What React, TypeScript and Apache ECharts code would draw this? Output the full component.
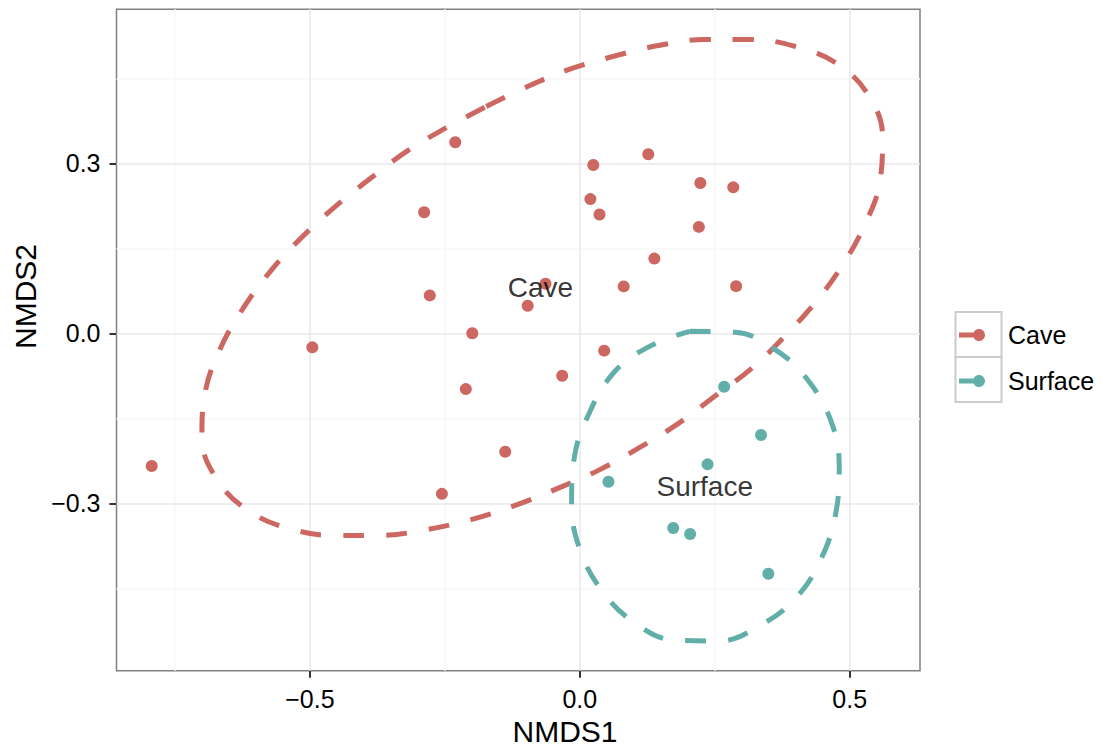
import React, { useEffect, useRef } from 'react';
import * as echarts from 'echarts';

// ---- data ----
const cavePoints: [number, number][] = [
  [-0.2307, 0.3372], [-0.2883, 0.2137], [-0.2778, 0.0668], [-0.1991, 0.0],
  [-0.4954, -0.0248], [-0.0965, 0.0485], [-0.0635, 0.0875], [0.025, 0.297],
  [0.1269, 0.3159], [0.2233, 0.2651], [0.2843, 0.2575], [0.0196, 0.2368],
  [0.0365, 0.2097], [0.2206, 0.1877], [0.1381, 0.1318], [0.0813, 0.0827],
  [0.2896, 0.0832], [0.0452, -0.0306], [-0.0326, -0.0749], [-0.793, -0.2343],
  [-0.2111, -0.0985], [-0.1381, -0.209], [-0.2554, -0.2833],
];

const surfacePoints: [number, number][] = [
  [0.2674, -0.0944], [0.3357, -0.1794], [0.2367, -0.2313], [0.0531, -0.2621],
  [0.1731, -0.3435], [0.2044, -0.3542], [0.3493, -0.4243],
];

// outline of the dashed ellipses
const caveEllipse: [number, number][] = [
  [-0.1733, 0.4002], [-0.0965, 0.4356], [-0.0172, 0.4664], [0.063, 0.4888],
  [0.1456, 0.5077], [0.2307, 0.5183], [0.3144, 0.5183], [0.3981, 0.5065],
  [0.4765, 0.4758], [0.5352, 0.4192], [0.5609, 0.346], [0.5556, 0.2656],
  [0.5274, 0.1907], [0.4852, 0.1181], [0.435, 0.0531], [0.3778, -0.0071],
  [0.3178, -0.0625], [0.2487, -0.1121], [0.1815, -0.1599], [0.1102, -0.2019],
  [0.0344, -0.2419], [-0.0454, -0.2755], [-0.1185, -0.3033], [-0.2011, -0.3287],
  [-0.2837, -0.3464], [-0.3667, -0.3565], [-0.4491, -0.357], [-0.5352, -0.3453],
  [-0.6124, -0.314], [-0.6722, -0.2578], [-0.7, -0.1829], [-0.6937, -0.1027],
  [-0.6654, -0.0259], [-0.6243, 0.0432], [-0.5728, 0.1098], [-0.5172, 0.1672],
  [-0.4537, 0.2231], [-0.3876, 0.2734], [-0.3187, 0.3223], [-0.2487, 0.362],
];

const surfaceEllipse: [number, number][] = [
  [0.2037, 0.0035], [0.2876, 0.0018], [0.3646, -0.0306], [0.4235, -0.0838],
  [0.467, -0.1594], [0.4806, -0.2384], [0.4737, -0.3198], [0.4483, -0.3954],
  [0.4028, -0.4645], [0.3357, -0.5146], [0.2574, -0.5429], [0.1737, -0.5412],
  [0.0987, -0.5088], [0.0398, -0.4526], [-0.0004, -0.38], [-0.0152, -0.2993],
  [-0.0104, -0.2206], [0.0143, -0.1475], [0.0611, -0.0714], [0.1256, -0.0248],
];

const groupLabels = ['Cave', 'Surface'];
const groupLabelPositions: [number, number][] = [[-0.0728, 0.0815], [0.2315, -0.2697]];

const xMajor = [-0.5, 0, 0.5];
const xMinor = [-0.75, -0.25, 0.25];
const yMajor = [-0.3, 0, 0.3];
const yMinor = [-0.45, -0.15, 0.15, 0.45];

const xRange = [-0.8582, 0.6302];
const yRange = [-0.5954, 0.5717];

const caveColor = '#CD6761';
const surfaceColor = '#62AFAA';
const FONT = '"Liberation Sans", Arial, Helvetica, sans-serif';

const legendIcon =
  'path://M0,5.5L14.5,5.5L14.5,10.5L0,10.5Z ' +
  'M26,8C26,11.314,23.314,14,20,14C16.686,14,14,11.314,14,8C14,4.686,16.686,2,20,2C23.314,2,26,4.686,26,8Z ' +
  'M44,8L44,8.02L43.98,8Z';

const fmt = (v: number) => v.toFixed(1).replace('-', '\u2212');

const close = (pts: [number, number][]) => [...pts, pts[0]];

export default function App() {
  const ref = useRef<HTMLDivElement>(null);

  useEffect(() => {
    if (!ref.current) return;
    const chart = echarts.init(ref.current, undefined, { renderer: 'svg' });

    const majorStyle = { color: '#E8E8E8', width: 1.5, type: 'solid' as const };
    const minorStyle = { color: '#F7F7F7', width: 1.5, type: 'solid' as const };

    const axisCommon = {
      type: 'value' as const,
      axisLine: { show: false, onZero: false },
      splitLine: { show: false },
      axisTick: { show: true, length: 7, lineStyle: { color: '#333333', width: 2 } },
    };

    chart.setOption({
      animation: false,
      backgroundColor: '#ffffff',
      grid: {
        left: 116.5,
        right: 187,
        top: 9.3,
        bottom: 76.3,
        show: true,
        backgroundColor: '#ffffff',
        borderColor: '#808080',
        borderWidth: 1.5,
      },
      xAxis: {
        ...axisCommon,
        min: xRange[0],
        max: xRange[1],
        axisTick: { ...axisCommon.axisTick, customValues: xMajor },
        axisLabel: {
          customValues: xMajor,
          formatter: fmt,
          fontSize: 25,
          color: '#000000',
          fontFamily: FONT,
          margin: 16,
        },
      },
      yAxis: {
        ...axisCommon,
        min: yRange[0],
        max: yRange[1],
        axisTick: { ...axisCommon.axisTick, customValues: yMajor },
        axisLabel: {
          customValues: yMajor,
          formatter: fmt,
          fontSize: 25,
          color: '#000000',
          fontFamily: FONT,
          margin: 16,
        },
      },
      legend: {
        orient: 'vertical',
        left: 959,
        top: 322.5,
        padding: 0,
        itemGap: 21,
        itemWidth: 44,
        itemHeight: 12,
        selectedMode: false,
        icon: legendIcon,
        data: ['Cave', 'Surface'],
        textStyle: { fontSize: 25, lineHeight: 24, color: '#000000', fontFamily: FONT },
      },
      graphic: [
        {
          type: 'rect',
          shape: { x: 955.5, y: 312, width: 46, height: 45 },
          style: { fill: 'none', stroke: '#CCCCCC', lineWidth: 2 },
          z: 0,
        },
        {
          type: 'rect',
          shape: { x: 955.5, y: 357, width: 46, height: 45 },
          style: { fill: 'none', stroke: '#CCCCCC', lineWidth: 2 },
          z: 0,
        },
        {
          type: 'text',
          x: 565,
          y: 731,
          style: {
            text: 'NMDS1',
            fontSize: 30,
            fontFamily: FONT,
            fill: '#000000',
            align: 'center',
            verticalAlign: 'middle',
          },
        },
        {
          type: 'text',
          x: 25,
          y: 296.5,
          rotation: Math.PI / 2,
          style: {
            text: 'NMDS2',
            fontSize: 30,
            fontFamily: FONT,
            fill: '#000000',
            align: 'center',
            verticalAlign: 'middle',
          },
        },
      ],
      series: [
        {
          type: 'line',
          name: 'gridlines',
          data: [],
          silent: true,
          markLine: {
            silent: true,
            symbol: ['none', 'none'],
            label: { show: false },
            z: 1,
            data: [
              ...xMinor.map((v) => ({ xAxis: v, lineStyle: minorStyle })),
              ...yMinor.map((v) => ({ yAxis: v, lineStyle: minorStyle })),
              ...xMajor.map((v) => ({ xAxis: v, lineStyle: majorStyle })),
              ...yMajor.map((v) => ({ yAxis: v, lineStyle: majorStyle })),
            ],
          },
        },
        {
          type: 'line',
          name: 'Cave ellipse',
          data: close(caveEllipse),
          smooth: 0.4,
          showSymbol: false,
          symbol: 'none',
          silent: true,
          z: 3,
          lineStyle: { color: caveColor, width: 5, type: [21, 22], cap: 'butt' },
        },
        {
          type: 'line',
          name: 'Surface ellipse',
          data: close(surfaceEllipse),
          smooth: 0.4,
          showSymbol: false,
          symbol: 'none',
          silent: true,
          z: 3,
          lineStyle: { color: surfaceColor, width: 5, type: [21, 22], cap: 'butt' },
        },
        {
          type: 'scatter',
          name: 'Cave',
          data: cavePoints,
          symbolSize: 12,
          itemStyle: { color: caveColor, opacity: 1 },
          z: 4,
        },
        {
          type: 'scatter',
          name: 'Surface',
          data: surfacePoints,
          symbolSize: 12,
          itemStyle: { color: surfaceColor, opacity: 1 },
          z: 4,
        },
        {
          type: 'scatter',
          name: 'group labels',
          data: groupLabels.map((n, i) => ({ name: n, value: groupLabelPositions[i] })),
          symbolSize: 1,
          itemStyle: { color: 'rgba(0,0,0,0)' },
          silent: true,
          z: 5,
          label: {
            show: true,
            position: 'inside',
            formatter: '{b}',
            fontSize: 28,
            fontFamily: FONT,
            color: '#000000',
            textBorderWidth: 0,
            textBorderColor: 'transparent',
          },
        },
      ],
    });

    return () => chart.dispose();
  }, []);

  return (
    <div
      ref={ref}
      style={{ position: 'fixed', left: 0, top: 0, width: '1107px', height: '747px' }}
    />
  );
}
